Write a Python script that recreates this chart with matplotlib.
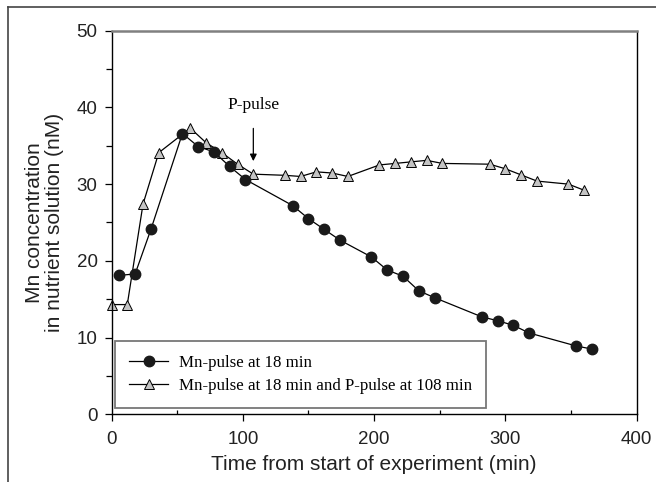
import matplotlib
matplotlib.use("Agg")
import matplotlib.pyplot as plt
from matplotlib.lines import Line2D
from matplotlib.ticker import MultipleLocator

# Mn-pulse at 18 min
t_mn = [6, 18, 30, 54, 66, 78, 90, 102, 138, 150, 162, 174, 198, 210, 222, 234, 246,
        282, 294, 306, 318, 354, 366]
mn = [18.1, 18.3, 24.1, 36.6, 34.9, 34.2, 32.3, 30.6, 27.2, 25.5, 24.1, 22.7, 20.5,
      18.8, 18.0, 16.1, 15.2, 12.7, 12.2, 11.6, 10.6, 8.9, 8.5]

# Mn-pulse at 18 min and P-pulse at 108 min
t_mnp = [0, 12, 24, 36, 60, 72, 84, 96, 108, 132, 144, 156, 168, 180, 204, 216, 228,
         240, 252, 288, 300, 312, 324, 348, 360]
mnp = [14.3, 14.3, 27.4, 34.1, 37.3, 35.4, 34.1, 32.6, 31.3, 31.15, 31.0, 31.6, 31.45,
       31.0, 32.5, 32.7, 32.9, 33.1, 32.7, 32.6, 32.0, 31.2, 30.4, 30.0, 29.2]

sans = "Liberation Sans"
serif = "Liberation Serif"

fig = plt.figure(figsize=(6.56, 4.82), dpi=100)
ax = fig.add_axes([0.170, 0.1405, 0.8006, 0.7958])

ax.plot(t_mn, mn, color="black", lw=0.9, marker="o", ms=7.5,
        mfc="#1a1a1a", mec="#1a1a1a", label="Mn-pulse at 18 min", zorder=3,
        clip_on=False)
ax.plot(t_mnp, mnp, color="black", lw=0.9, marker="^", ms=7,
        mfc="#c4c4c4", mec="black", mew=0.7,
        label="Mn-pulse at 18 min and P-pulse at 108 min", zorder=2, clip_on=False)

ax.set_xlim(0, 400)
ax.set_ylim(0, 50)
ax.xaxis.set_major_locator(MultipleLocator(100))
ax.xaxis.set_minor_locator(MultipleLocator(50))
ax.yaxis.set_major_locator(MultipleLocator(10))
ax.yaxis.set_minor_locator(MultipleLocator(5))
ax.tick_params(axis="x", which="major", direction="out", length=5, width=0.9, pad=7)
ax.tick_params(axis="x", which="minor", direction="in", length=3, width=0.9)
ax.tick_params(axis="y", which="both", direction="out", length=4, width=0.9, pad=5)
ax.tick_params(axis="y", which="major", length=5)
for lab in ax.get_xticklabels() + ax.get_yticklabels():
    lab.set_family(sans)
    lab.set_fontsize(13.5)
    lab.set_color("#222222")

for s in ["left", "bottom", "right"]:
    ax.spines[s].set_linewidth(1.0)
    ax.spines[s].set_color("black")
ax.spines["top"].set_color("#808080")
ax.spines["top"].set_linewidth(1.8)

ax.set_xlabel("Time from start of experiment (min)", family=sans, fontsize=15,
              color="#222222", labelpad=5)
ax.set_ylabel("Mn concentration\nin nutrient solution (nM)", family=sans, fontsize=15,
              color="#222222", labelpad=9, linespacing=1.05)

ax.annotate("P-pulse", xy=(108, 33.0), xytext=(108, 40.3), ha="center", va="center",
            family=serif, fontsize=12.5,
            arrowprops=dict(arrowstyle="-|>", color="black", lw=0.9,
                            shrinkA=9, shrinkB=0, mutation_scale=10))

leg = ax.legend(loc="lower left", bbox_to_anchor=(0.0067, 0.016), borderaxespad=0,
                prop={"family": serif, "size": 12.2}, fancybox=False, frameon=True,
                handlelength=2.3, borderpad=0.85, labelspacing=0.4, handletextpad=0.6)
leg.get_frame().set_edgecolor("#555555")
leg.get_frame().set_linewidth(1.3)

# partial frame around the figure
fig.add_artist(Line2D([8 / 656, 8 / 656], [0, 1 - 7 / 482], transform=fig.transFigure,
                      color="#444444", lw=1.2))
fig.add_artist(Line2D([8 / 656, 1], [1 - 7 / 482, 1 - 7 / 482], transform=fig.transFigure,
                      color="#444444", lw=1.2))

fig.savefig("out.png", dpi=100)
